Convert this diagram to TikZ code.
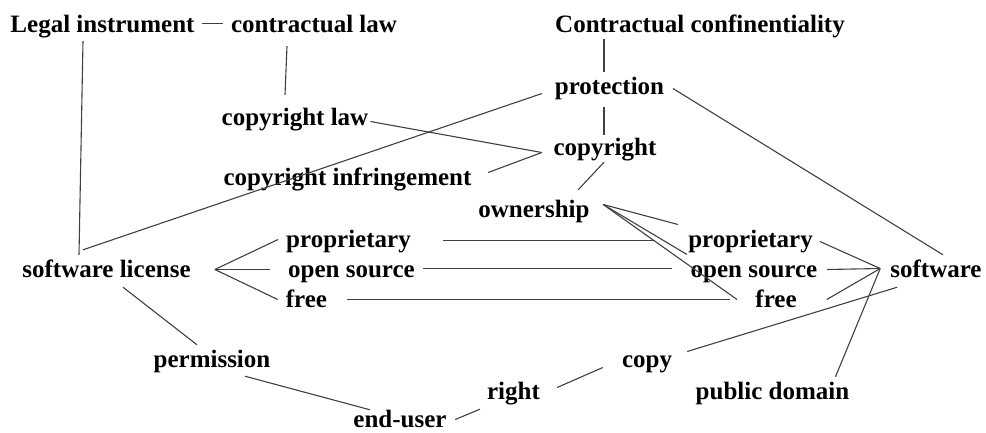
\documentclass[tikz,border=0pt]{standalone}
\usepackage{fontspec}
\setmainfont{Liberation Serif}
\tikzset{
  term/.style={font=\bfseries\fontsize{25}{30}\selectfont, anchor=base,
    inner sep=0pt, text height=17pt, text depth=4pt},
  link/.style={draw=black!75, line width=1.1pt}
}
\begin{document}
\begin{tikzpicture}[x=1pt,y=-1pt]
  \useasboundingbox (0,0) rectangle (986,432);
  \node[term] (leg) at (102.5,32) {Legal instrument};
  \node[term] (con) at (314,32) {contractual law};
  \node[term] (ccf) at (700,32) {Contractual confinentiality};
  \node[term] (prot) at (609.5,94) {protection};
  \node[term] (cpl) at (295,125) {copyright law};
  \node[term] (cpr) at (605,155) {copyright};
  \node[term] (cpi) at (347.5,185) {copyright infringement};
  \node[term] (own) at (534,217) {ownership};
  \node[term] (pl) at (348.5,247) {proprietary};
  \node[term] (ol) at (351.5,277) {open source};
  \node[term] (fl) at (306.5,307) {free};
  \node[term] (swl) at (106.5,277) {software license};
  \node[term] (perm) at (212,367) {permission};
  \node[term] (eu) at (400,427) {end-user};
  \node[term] (rt) at (513.5,399) {right};
  \node[term] (cp) at (647,367) {copy};
  \node[term] (pd) at (772.5,399) {public domain};
  \node[term] (pr) at (750.5,247) {proprietary};
  \node[term] (or) at (754,277) {open source};
  \node[term] (fr) at (776,307) {free};
  \node[term] (sw) at (936,277) {software};
  \begin{scope}[link]
    \draw ([shift={(7.5,-2)}]leg.east) -- ([shift={(-8,-2)}]con.west);
    \draw ([shift={(-19.5,5)}]leg.south) -- ([shift={(-27.5,-5)}]swl.north);
    \draw ([shift={(-27,10)}]con.south) -- ([shift={(-10,-13)}]cpl.north);
    \draw ([shift={(2,3)}]cpl.east) -- ([shift={(-11.6,4)}]cpr.west);
    \draw ([shift={(16.5,-6)}]cpi.east) -- ([shift={(-11.6,4)}]cpr.west);
    \draw ([shift={(-23.5,-10)}]swl.north) -- ([shift={(-12.65,6)}]prot.west);
    \draw ([shift={(-96,3)}]ccf.south) -- ([shift={(-5.5,-5)}]prot.north);
    \draw ([shift={(-5.5,9)}]prot.south) -- ([shift={(-1,-3)}]cpr.north);
    \draw ([shift={(-1,3)}]cpr.south) -- ([shift={(-11.6,-10)}]own.north east);
    \draw ([shift={(8.65,1)}]prot.east) -- ([shift={(7,-5)}]sw.north);
    \draw ([shift={(13.4,-6)}]own.east) -- ([shift={(-10,-16)}]pr.west);
    \draw ([shift={(13.4,-6)}]own.east) -- ([shift={(-3.5,-16)}]or.west);
    \draw ([shift={(13.4,-6)}]own.east) -- ([shift={(-18.2,-1)}]fr.west);
    \draw ([shift={(32,0)}]pl.east) -- ([shift={(-33,0)}]pr.west);
    \draw ([shift={(8,-2)}]ol.east) -- ([shift={(-18.5,-2)}]or.west);
    \draw ([shift={(20,-1)}]fl.east) -- ([shift={(-25,-1)}]fr.west);
    \draw ([shift={(24,-1)}]swl.east) -- ([shift={(-8,-1)}]pl.west);
    \draw ([shift={(24,-1)}]swl.east) -- ([shift={(-18,-1)}]ol.west);
    \draw ([shift={(24,-1)}]swl.east) -- ([shift={(-8,-1)}]fl.west);
    \draw ([shift={(16.5,6)}]swl.south) -- ([shift={(-15,-5)}]perm.north);
    \draw ([shift={(33,5)}]perm.south) -- ([shift={(-30,0)}]eu.north);
    \draw ([shift={(8.5,-1)}]eu.east) -- ([shift={(-7,6)}]rt.south west);
    \draw ([shift={(17,-5)}]rt.east) -- ([shift={(-19,7)}]cp.west);
    \draw ([shift={(15,-9)}]cp.east) -- ([shift={(7,6)}]sw.south west);
    \draw ([shift={(7,1)}]pr.east) -- ([shift={(-10,-2)}]sw.west);
    \draw ([shift={(9.5,-1)}]or.east) -- ([shift={(-10,-2)}]sw.west);
    \draw ([shift={(30,-1)}]fr.east) -- ([shift={(-10,-2)}]sw.west);
    \draw ([shift={(-14,-5)}]pd.north east) -- ([shift={(-10,-2)}]sw.west);
  \end{scope}
\end{tikzpicture}
\end{document}
